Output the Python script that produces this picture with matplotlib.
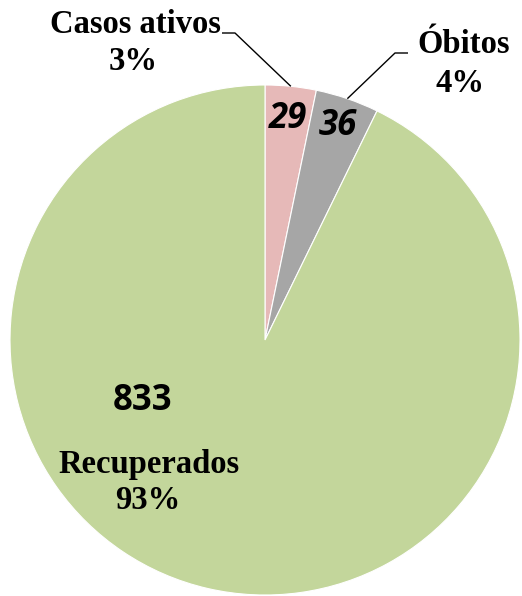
import numpy as np
import matplotlib
matplotlib.use("Agg")
import matplotlib.pyplot as plt

categories = ["Casos ativos", "Óbitos", "Recuperados"]
values = [29, 36, 833]
colors = ["#E6B9B8", "#A6A6A6", "#C3D69B"]

W, H = 522, 596
fig = plt.figure(figsize=(W / 100, H / 100), dpi=100)
cx, cy, R = 265, 340, 255  # pixel geometry of pie
ax = fig.add_axes([(cx - R) / W, (H - cy - R) / H, 2 * R / W, 2 * R / H])

wedges, _ = ax.pie(values, colors=colors, startangle=90, counterclock=False,
                   radius=1, center=(0, 0),
                   wedgeprops=dict(edgecolor="white", linewidth=0.8))
ax.set_xlim(-1, 1)
ax.set_ylim(-1, 1)
ax.set_aspect("equal")
ax.axis("off")

total = sum(values)
pcts = [round(v / total * 100) for v in values]

def p2d(px, py):
    return (px - cx) / R, (cy - py) / R

serif = dict(family="Liberation Serif", weight="bold", size=23.5, color="black")
num = dict(family="Open Sans", weight="bold", size=25, color="black")

# Inside value labels
mids = []
for w in wedges:
    mids.append(np.deg2rad((w.theta1 + w.theta2) / 2))
num_r = [0.87, 0.885]
for i in range(2):
    a = mids[i]
    ax.text(num_r[i] * np.cos(a), num_r[i] * np.sin(a), str(values[i]),
            ha="center", va="center", style="italic", **num)
x, y = p2d(142.5, 401)
ax.text(x, y, str(values[2]), ha="center", va="center", **num)

# Recuperados label
x, y = p2d(149, 473)
ax.text(x, y, categories[2], ha="center", va="baseline", **serif)
x, y = p2d(148, 509)
ax.text(x, y, f"{pcts[2]}%", ha="center", va="baseline", **serif)

# Outside labels with leader lines
out_labels = [
    dict(i=0, name=(135, 33), pct=(133, 70), elbow=(235, 33), end=(222, 33)),
    dict(i=1, name=(464, 53), pct=(460, 92), elbow=(395, 53), end=(408, 53)),
]
for d in out_labels:
    i = d["i"]
    a = mids[i]
    ex, ey = np.cos(a), np.sin(a)
    bx, by = p2d(*d["elbow"])
    tx, ty = p2d(*d["end"])
    ax.plot([ex, bx, tx], [ey, by, ty], color="black", lw=1.0,
            clip_on=False, solid_capstyle="butt")
    x, y = p2d(*d["name"])
    ax.text(x, y, categories[i], ha="center", va="baseline", clip_on=False, **serif)
    x, y = p2d(*d["pct"])
    ax.text(x, y, f"{pcts[i]}%", ha="center", va="baseline", clip_on=False, **serif)

fig.savefig("out.png", dpi=100, facecolor="white")
